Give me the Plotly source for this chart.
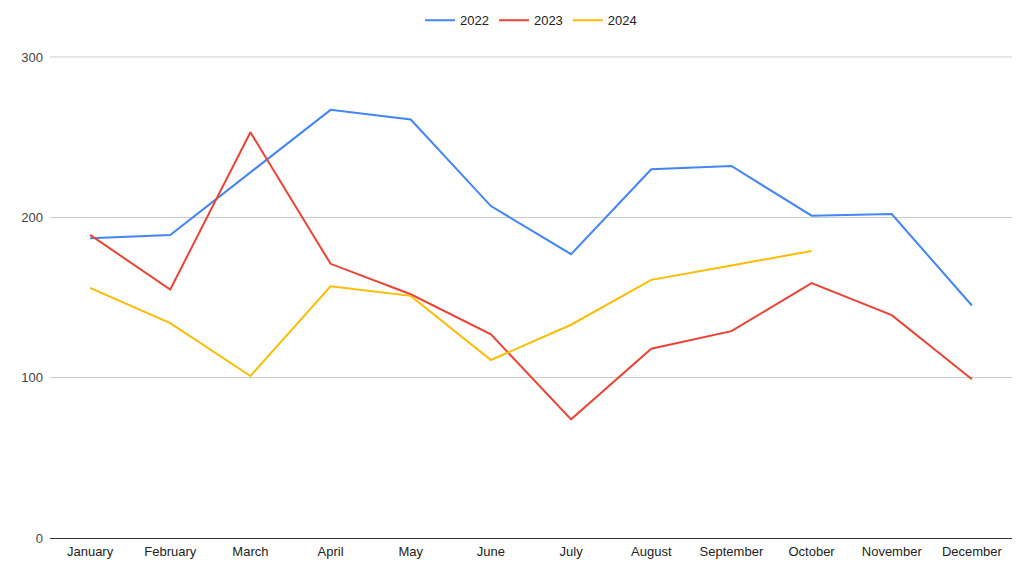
import plotly.graph_objects as go

# --- data ---
MONTHS = ['January', 'February', 'March', 'April', 'May', 'June',
          'July', 'August', 'September', 'October', 'November', 'December']
SALES_2022 = [187, 189, 228, 267, 261, 207, 177, 230, 232, 201, 202, 145]
SALES_2023 = [189, 155, 253, 171, 152, 127, 74, 118, 129, 159, 139, 99]
SALES_2024 = [156, 134, 101, 157, 151, 111, 133, 161, 170, 179]
Y_TICKS = [0, 100, 200, 300]
Y_MAX = 300

SERIES = [
    ('2022', SALES_2022, '#4285F4'),
    ('2023', SALES_2023, '#EA4335'),
    ('2024', SALES_2024, '#FBBC04'),
]

fig = go.Figure()
for name, values, colour in SERIES:
    fig.add_trace(go.Scatter(
        x=MONTHS[:len(values)],
        y=values,
        name=name,
        mode='lines',
        line=dict(color=colour, width=2),
    ))

# plotly drops the gridline sitting on the top edge, so draw it by hand
fig.add_hline(y=Y_MAX, line_color='#cccccc', line_width=1, layer='below')

# page body has an 8px margin, so the figure is a bit smaller than the window
fig.update_layout(
    width=1016,
    height=564,
    margin=dict(l=42, r=12, t=48, b=34),
    paper_bgcolor='white',
    plot_bgcolor='white',
    font=dict(family='Arial, Liberation Sans, sans-serif', size=13, color='#444444'),
    legend=dict(
        orientation='h',
        x=0.5, xanchor='center',
        y=0.978, yanchor='middle',
        yref='container',
        font=dict(size=13, color='#222222'),
        itemwidth=30,
    ),
    showlegend=True,
)

fig.update_xaxes(
    type='category',
    categoryorder='array',
    categoryarray=MONTHS,
    range=[-0.5, 11.5],
    showgrid=False,
    showline=False,
    ticks='',
    ticklabelstandoff=4,
    tickfont=dict(size=13, color='#222222'),
)
fig.update_yaxes(
    range=[0, Y_MAX + 0.6],
    tickvals=Y_TICKS,
    showgrid=True,
    gridcolor='#cccccc',
    gridwidth=1,
    zeroline=True,
    zerolinecolor='#333333',
    zerolinewidth=1,
    ticks='',
    ticklabelstandoff=6,
    tickfont=dict(size=13, color='#444444'),
)

fig.write_html("out.html")
